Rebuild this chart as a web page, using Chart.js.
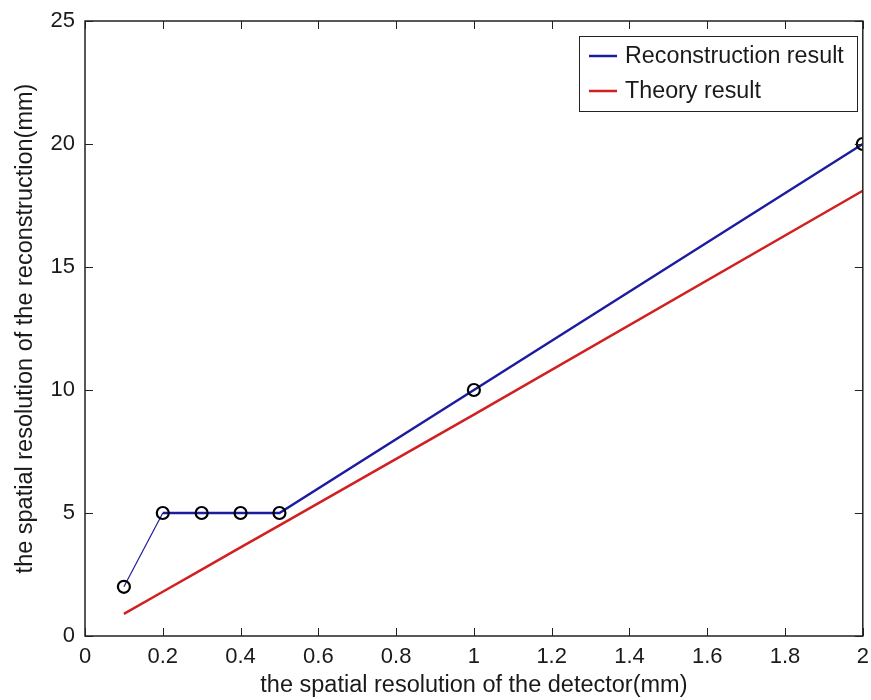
<!DOCTYPE html>
<html>
<head>
<meta charset="utf-8">
<script src="https://cdn.jsdelivr.net/npm/chart.js@4.4.0/dist/chart.umd.min.js"></script>
<style>
  html, body { margin: 0; padding: 0; background: #fff; }
  #wrap { width: 871px; height: 700px; }
</style>
</head>
<body>
<div id="wrap"><canvas id="resChart" width="871" height="700"></canvas></div>
<script>
// detector resolution (mm)
const detector = [0.1, 0.2, 0.3, 0.4, 0.5, 1, 2];
// reconstruction result (mm)
const reconstruction = [2, 5, 5, 5, 5, 10, 20];
// theory result (mm)
const theory = [0.9, 1.8, 2.7, 3.6, 4.5, 9.0, 18.1];
const xTicks = [0, 0.2, 0.4, 0.6, 0.8, 1, 1.2, 1.4, 1.6, 1.8, 2];
const yTicks = [0, 5, 10, 15, 20, 25];

const FONT = 'Liberation Sans, Arial, sans-serif';
const TEXT = '#1a1a1a';

// box round the plot, inward ticks and x tick labels, matlab style
const framePlugin = {
  id: 'frame',
  afterDatasetsDraw(chart) {
    const ctx = chart.ctx;
    const a = chart.chartArea;
    const xs = chart.scales.x, ys = chart.scales.y;
    ctx.save();
    ctx.strokeStyle = '#222';
    ctx.lineWidth = 1.5;
    ctx.strokeRect(a.left, a.top, a.right - a.left, a.bottom - a.top);
    ctx.lineWidth = 1;
    const len = 8;
    xTicks.forEach(v => {
      const px = Math.round(xs.getPixelForValue(v)) + 0.5;
      ctx.beginPath();
      ctx.moveTo(px, a.bottom); ctx.lineTo(px, a.bottom - len);
      ctx.moveTo(px, a.top); ctx.lineTo(px, a.top + len);
      ctx.stroke();
    });
    yTicks.forEach(v => {
      const py = Math.round(ys.getPixelForValue(v)) + 0.5;
      ctx.beginPath();
      ctx.moveTo(a.left, py); ctx.lineTo(a.left + len, py);
      ctx.moveTo(a.right, py); ctx.lineTo(a.right - len, py);
      ctx.stroke();
    });
    ctx.fillStyle = TEXT;
    ctx.font = '22px ' + FONT;
    ctx.textAlign = 'center';
    ctx.textBaseline = 'top';
    xTicks.forEach(v => {
      ctx.fillText(String(v), xs.getPixelForValue(v), a.bottom + 10);
    });
    ctx.restore();
  },
  afterDraw(chart) {
    // legend box in the upper right of the axes
    const ctx = chart.ctx;
    const x0 = 579, y0 = 36, w = 278, h = 75;
    ctx.save();
    ctx.fillStyle = '#fff';
    ctx.fillRect(x0, y0, w, h);
    ctx.strokeStyle = '#222';
    ctx.lineWidth = 1;
    ctx.strokeRect(x0 + 0.5, y0 + 0.5, w, h);
    ctx.font = '23.3px ' + FONT;
    ctx.textBaseline = 'middle';
    chart.data.datasets.forEach((ds, i) => {
      const y = y0 + 20 + i * 35;
      ctx.strokeStyle = ds.borderColor;
      ctx.lineWidth = 2.5;
      ctx.beginPath();
      ctx.moveTo(x0 + 10, y); ctx.lineTo(x0 + 38, y);
      ctx.stroke();
      ctx.fillStyle = TEXT;
      ctx.fillText(ds.label, x0 + 46, y + 1);
    });
    ctx.restore();
  }
};

const ctx = document.getElementById('resChart').getContext('2d');
const resChart = new Chart(ctx, {
  type: 'line',
  data: {
    datasets: [
      {
        label: 'Reconstruction result',
        data: detector.map((x, i) => ({ x: x, y: reconstruction[i] })),
        borderColor: '#1c1ca0',
        borderWidth: 2.5,
        segment: { borderWidth: c => c.p0DataIndex === 0 ? 1.2 : 2.5 },
        pointRadius: 6,
        pointBorderWidth: 2.2,
        pointBorderColor: '#000',
        pointBackgroundColor: 'rgba(0,0,0,0)',
        tension: 0
      },
      {
        label: 'Theory result',
        data: detector.map((x, i) => ({ x: x, y: theory[i] })),
        borderColor: '#d21f1f',
        borderWidth: 2.5,
        pointRadius: 0,
        tension: 0
      }
    ]
  },
  plugins: [framePlugin],
  options: {
    responsive: false,
    animation: false,
    layout: { padding: { top: 21, right: 5, left: 0, bottom: 0 } },
    plugins: {
      legend: { display: false },
      tooltip: { enabled: false }
    },
    scales: {
      x: {
        type: 'linear',
        min: 0, max: 2,
        afterBuildTicks: s => { s.ticks = xTicks.map(v => ({ value: v })); },
        afterFit: s => { s.height = 64; s.paddingLeft = 0; s.paddingRight = 0; },
        grid: { display: false, drawTicks: false },
        border: { display: false },
        ticks: { display: false },
        title: {
          display: true,
          text: 'the spatial resolution of the detector(mm)',
          color: TEXT,
          font: { family: FONT, size: 23.5 },
          padding: { top: 0, bottom: 0 }
        }
      },
      y: {
        type: 'linear',
        min: 0, max: 25,
        afterBuildTicks: s => { s.ticks = yTicks.map(v => ({ value: v })); },
        afterFit: s => { s.width = 85; s.paddingTop = 0; s.paddingBottom = 0; },
        grid: { display: false, drawTicks: false },
        border: { display: false },
        ticks: {
          color: TEXT,
          font: { family: FONT, size: 22 },
          padding: 10,
          callback: v => String(v)
        },
        title: {
          display: true,
          text: 'the spatial resolution of the reconstruction(mm)',
          color: TEXT,
          font: { family: FONT, size: 23.5 },
          padding: { top: 11, bottom: 0 }
        }
      }
    }
  }
});
</script>
</body>
</html>
